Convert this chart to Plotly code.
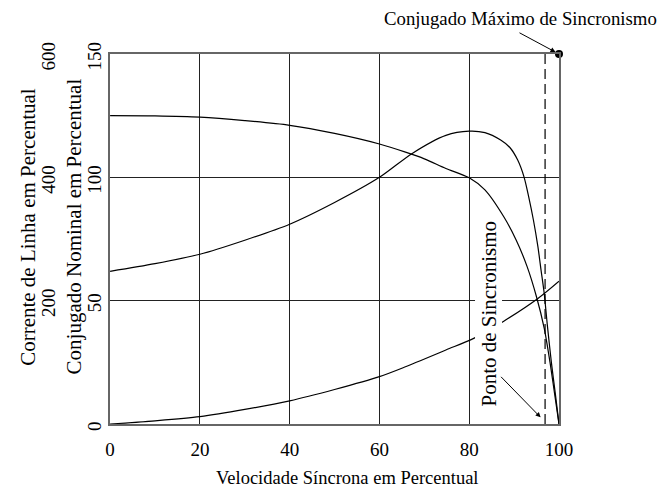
import plotly.graph_objects as go

# ---------------- data ----------------
speed_ticks = [0, 20, 40, 60, 80, 100]
torque_ticks = [0, 50, 100, 150]
current_ticks = [200, 400, 600]

# line current (% of nominal, 0-600 scale)
current_x = [0, 10, 20, 30, 40, 50, 60, 65.8, 70, 74.8, 80, 83.5, 87.7, 90.45, 92.9, 95, 96.7, 98, 99, 100]
current_y = [500, 499.6, 497.6, 492, 484.4, 471.2, 454, 440.8, 430, 414.4, 399.2, 379.6, 336, 298.4, 255.2, 206, 155.6, 100, 50, 0]

# torque (% of nominal, 0-150 scale)
torque_x = [0, 10, 20, 30, 40, 50, 60, 67.3, 74.8, 80, 83.5, 87, 89.1, 90.8, 92.2, 93.25,
            94.3, 95.3, 96.0, 96.7, 97.4, 98.3, 99.2, 100]
torque_y = [61.9, 65.0, 68.8, 74.5, 81.0, 89.8, 100, 109.7, 117.0, 118.7, 118.1, 115.1, 112.0, 107.0, 100.2, 92.1,
            82.7, 71.9, 62.4, 53.0, 40.1, 25, 12, 0]

# lower rising curve (0-150 scale)
lower_x = [0, 10, 20, 30, 40, 50, 60, 65.8, 74.8, 81, 87.7, 95.3, 100]
lower_y = [0, 1.3, 3.0, 5.9, 9.4, 14.0, 19.2, 23.2, 30.0, 34.7, 41.7, 50.9, 57.9]

sync_speed = 96.9          # dashed line
max_point = (100, 150)     # Conjugado Máximo de Sincronismo
sync_arrow_head = (95.9, 2.7)

FONT = "Liberation Serif"

fig = go.Figure()

curve_line = dict(color="black", width=1.2, shape="spline", smoothing=0.8)
fig.add_trace(go.Scatter(x=current_x, y=current_y, yaxis="y2", mode="lines", line=curve_line,
                         showlegend=False, hoverinfo="skip"))
fig.add_trace(go.Scatter(x=torque_x, y=torque_y, mode="lines", line=curve_line,
                         showlegend=False, hoverinfo="skip"))
fig.add_trace(go.Scatter(x=lower_x, y=lower_y, mode="lines", line=curve_line,
                         showlegend=False, hoverinfo="skip"))
fig.add_trace(go.Scatter(x=[sync_speed, sync_speed], y=[0, 150], mode="lines",
                         line=dict(color="black", width=1.2, dash="10px,5px"),
                         showlegend=False, hoverinfo="skip"))
fig.add_trace(go.Scatter(x=[max_point[0]], y=[max_point[1]], mode="markers",
                         marker=dict(color="black", size=8), cliponaxis=False,
                         showlegend=False, hoverinfo="skip"))

# page body has an 8px margin -> figure is drawn 8px smaller and offset
OFF = 8
W, H = 671 - OFF, 490 - OFF
L_PLOT, R_PLOT = 106, 559      # reference pixel coordinates
T_PLOT, B_PLOT = 54, 424
paper_w = R_PLOT - OFF          # margin l = 0
paper_h = B_PLOT - T_PLOT


def px(xr):
    return (xr - OFF) / paper_w


def py(yr):
    return (B_PLOT - yr) / paper_h


annotations = [
    dict(text="Velocidade Síncrona em Percentual", xref="paper", yref="paper",
         x=px(346), y=py(478), showarrow=False, xanchor="center", yanchor="middle",
         font=dict(family=FONT, size=18.5, color="black")),
    dict(text="Conjugado Nominal em Percentual", xref="paper", yref="paper",
         x=px(70), y=py(226), showarrow=False, textangle=-90, xanchor="center", yanchor="middle",
         font=dict(family=FONT, size=21, color="black")),
    dict(text="Corrente de Linha em Percentual", xref="paper", yref="paper",
         x=px(23), y=py(227), showarrow=False, textangle=-90, xanchor="center", yanchor="middle",
         font=dict(family=FONT, size=21, color="black")),
    dict(text="Conjugado Máximo de Sincronismo", xref="paper", yref="paper",
         x=px(520), y=py(18), showarrow=False, xanchor="center", yanchor="middle",
         font=dict(family=FONT, size=18.8, color="black")),
    dict(text="", x=max_point[0], y=max_point[1], xref="x", yref="y",
         showarrow=True, ax=-41, ay=-22, arrowhead=2, arrowsize=1, arrowwidth=1,
         arrowcolor="black", standoff=4),
    dict(text="Ponto de Sincronismo", x=84.3, y=44.6, xref="x", yref="y",
         showarrow=False, textangle=-90, xanchor="center", yanchor="middle",
         bgcolor="white", borderpad=1,
         font=dict(family=FONT, size=21, color="black")),
    dict(text="", x=sync_arrow_head[0], y=sync_arrow_head[1], xref="x", yref="y",
         showarrow=True, ax=-41, ay=-42, arrowhead=2, arrowsize=1, arrowwidth=1,
         arrowcolor="black", standoff=0),
]

fig.update_layout(
    width=W, height=H,
    margin=dict(l=0, r=W - (R_PLOT - OFF), t=T_PLOT - OFF, b=H - (B_PLOT - OFF), pad=0),
    paper_bgcolor="white", plot_bgcolor="white",
    font=dict(family=FONT, color="black", size=19),
    xaxis=dict(domain=[px(L_PLOT), 1], range=[0, 100], tickvals=speed_ticks,
               ticks="", showgrid=True, gridcolor="#222", gridwidth=1, zeroline=False,
               showline=True, linecolor="#666", linewidth=1.5, mirror=True,
               ticklabelstandoff=7,
               tickfont=dict(family=FONT, size=19, color="black")),
    yaxis=dict(range=[0, 150], tickvals=torque_ticks, tickangle=-90, ticks="",
               showgrid=True, gridcolor="#222", gridwidth=1, zeroline=False,
               showline=True, linecolor="#666", linewidth=1.5, mirror=True,
               ticklabelshift=5,
               tickfont=dict(family=FONT, size=19, color="black")),
    yaxis2=dict(range=[0, 600], tickvals=current_ticks, tickangle=-90, ticks="",
                overlaying="y", anchor="free", side="left", position=px(54),
                showgrid=False, zeroline=False, showline=False,
                ticklabelshift=5,
                tickfont=dict(family=FONT, size=19, color="black")),
    annotations=annotations,
)

fig.write_html("out.html")
